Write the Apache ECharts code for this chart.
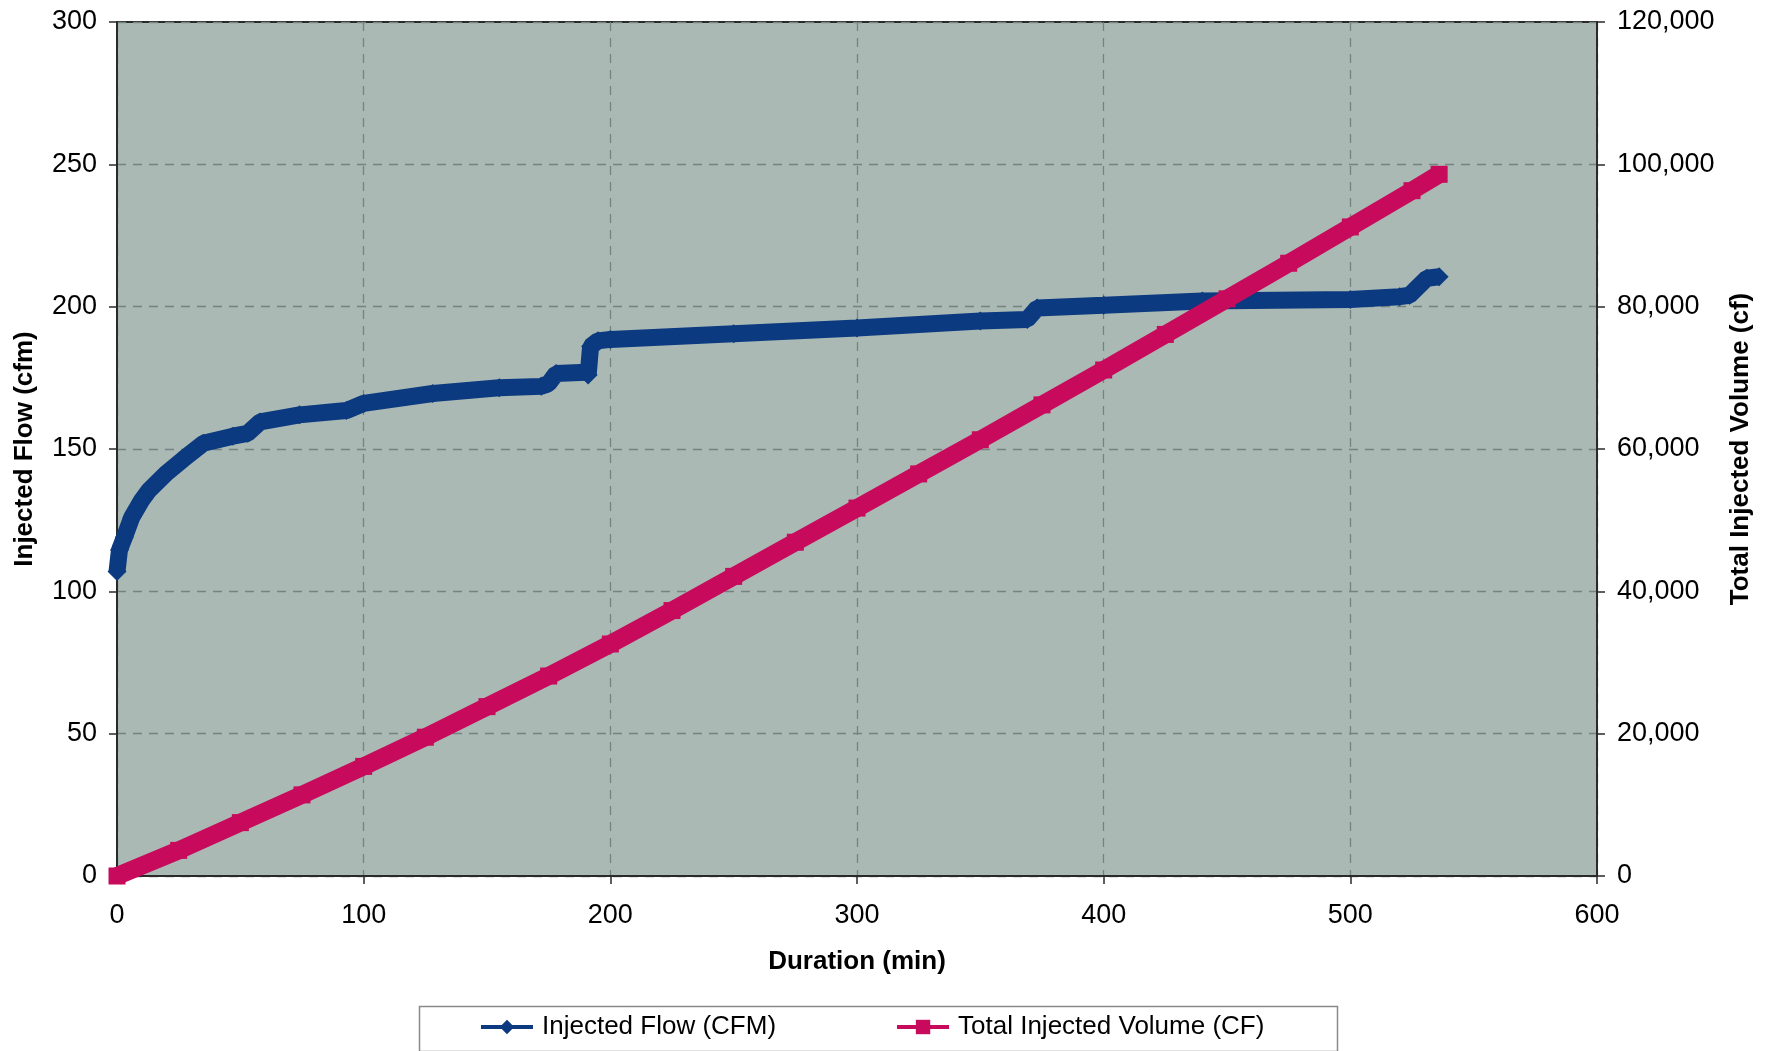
<!DOCTYPE html>
<html>
<head>
<meta charset="utf-8">
<script src="https://cdn.jsdelivr.net/npm/echarts@6/dist/echarts.min.js"></script>
<style>
html,body{margin:0;padding:0;background:#fff;}
#chart{width:1769px;height:1051px;}
</style>
</head>
<body>
<div id="chart"></div>
<script>
// Injected flow (cfm) vs duration (min)
const flowTime = [0, 1, 3, 6, 10, 13, 20, 27, 35, 47, 53, 58, 74, 93, 100, 128, 155, 172, 175, 178, 190, 191, 192, 195, 200, 250, 300, 350, 369, 373, 400, 440, 500, 520, 524, 531, 536];
const flowValues = [107, 114.5, 119, 126, 132, 135.5, 141.5, 146.5, 152, 154.5, 155.5, 159.5, 162, 163.5, 166, 169.5, 171.5, 172, 173, 176.5, 177, 176, 186, 188, 188.5, 190.5, 192.5, 195, 195.5, 199.5, 200.5, 202, 202.5, 203.5, 204, 210, 210.5];

// Total injected volume (cf) vs duration (min)
const volTime = [0, 25, 50, 75, 100, 125, 150, 175, 200, 225, 250, 275, 300, 325, 350, 375, 400, 425, 450, 475, 500, 525, 536];
const volValues = [0, 3600, 7500, 11400, 15400, 19500, 23800, 28100, 32600, 37300, 42100, 46900, 51700, 56500, 61300, 66200, 71100, 76100, 81100, 86100, 91200, 96300, 98600];

const xTicks = [0, 100, 200, 300, 400, 500, 600];
const leftTicks = [0, 50, 100, 150, 200, 250, 300];
const rightTicks = [0, 20000, 40000, 60000, 80000, 100000, 120000];

const seriesNames = ['Injected Flow (CFM)', 'Total Injected Volume (CF)'];

const flowData = flowTime.map((t, i) => [t, flowValues[i]]);
const volData = volTime.map((t, i) => [t, volValues[i]]);

const FONT = 'Liberation Sans, Arial, sans-serif';
const fmt = v => String(v).replace(/\B(?=(\d{3})+(?!\d))/g, ',');

const chart = echarts.init(document.getElementById('chart'), null, {renderer: 'canvas'});
chart.setOption({
  animation: false,
  backgroundColor: '#ffffff',
  textStyle: {fontFamily: FONT},
  grid: {
    left: 117, right: 172, top: 22, bottom: 175,
    show: true, backgroundColor: '#aab9b4', borderColor: '#2a2a2a', borderWidth: 2,
    containLabel: false, outerBoundsMode: 'none'
  },
  legend: {
    left: 479, top: 1014,
    itemWidth: 52, itemHeight: 18, itemGap: 119,
    data: seriesNames,
    textStyle: {fontFamily: FONT, fontSize: 26, color: '#000', padding: [0, 0, 0, 4]},
    lineStyle: {width: 4},
    padding: 0
  },
  graphic: [{
    type: 'rect', left: 417, top: 1004,
    shape: {width: 918, height: 45},
    style: {fill: 'none', stroke: '#8a8a8a', lineWidth: 1.5}
  }],
  xAxis: {
    type: 'value', min: xTicks[0], max: xTicks[xTicks.length - 1], interval: 100,
    name: 'Duration (min)', nameLocation: 'middle', nameGap: 73,
    nameTextStyle: {fontFamily: FONT, fontSize: 26, fontWeight: 'bold', color: '#000'},
    axisLine: {show: true, onZero: false, lineStyle: {color: '#2a2a2a', width: 2}},
    axisTick: {show: true, inside: false, length: 8, lineStyle: {color: '#2a2a2a', width: 1.5}},
    axisLabel: {fontFamily: FONT, fontSize: 27, color: '#000', margin: 26},
    splitLine: {show: true, lineStyle: {color: '#76847f', type: [9, 7], width: 1.3}}
  },
  yAxis: [{
    type: 'value', min: leftTicks[0], max: leftTicks[leftTicks.length - 1], interval: 50,
    name: 'Injected Flow (cfm)', nameLocation: 'middle', nameGap: 79, nameRotate: 90,
    nameTextStyle: {fontFamily: FONT, fontSize: 26, fontWeight: 'bold', color: '#000'},
    axisLine: {show: true, onZero: false, lineStyle: {color: '#2a2a2a', width: 2}},
    axisTick: {show: true, inside: false, length: 8, lineStyle: {color: '#2a2a2a', width: 1.5}},
    axisLabel: {fontFamily: FONT, fontSize: 27, color: '#000', margin: 20},
    splitLine: {show: true, lineStyle: {color: '#76847f', type: [9, 7], width: 1.3}}
  }, {
    type: 'value', position: 'right', min: rightTicks[0], max: rightTicks[rightTicks.length - 1], interval: 20000,
    name: 'Total Injected Volume (cf)', nameLocation: 'middle', nameGap: 131, nameRotate: 90,
    nameTextStyle: {fontFamily: FONT, fontSize: 26, fontWeight: 'bold', color: '#000'},
    axisLine: {show: true, onZero: false, lineStyle: {color: '#2a2a2a', width: 2}},
    axisTick: {show: true, inside: false, length: 8, lineStyle: {color: '#2a2a2a', width: 1.5}},
    axisLabel: {fontFamily: FONT, fontSize: 27, color: '#000', margin: 20, formatter: fmt},
    splitLine: {show: false}
  }],
  series: [{
    name: seriesNames[0], type: 'line', yAxisIndex: 0, data: flowData,
    symbol: 'diamond', symbolSize: 19, showSymbol: true,
    lineStyle: {color: '#0c3a80', width: 17},
    itemStyle: {color: '#0c3a80'},
    z: 3
  }, {
    name: seriesNames[1], type: 'line', yAxisIndex: 1, data: volData,
    symbol: 'rect', symbolSize: 17, showSymbol: true,
    lineStyle: {color: '#c80a5c', width: 18},
    itemStyle: {color: '#c80a5c'},
    z: 4
  }]
});
</script>
</body>
</html>
